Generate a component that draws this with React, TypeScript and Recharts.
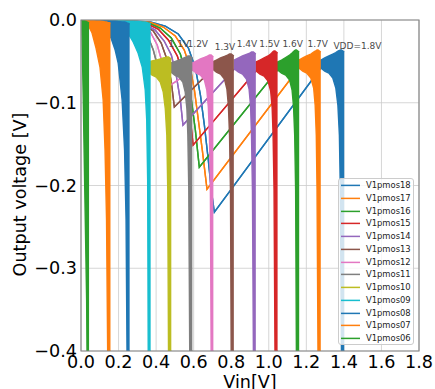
import React from 'react';
import {
  ComposedChart,
  Area,
  XAxis,
  YAxis,
  CartesianGrid,
  ReferenceArea,
  ReferenceDot,
  Legend,
} from 'recharts';

const FONT = 'DejaVu Sans';

const xTicks = [0, 0.2, 0.4, 0.6, 0.8, 1.0, 1.2, 1.4, 1.6, 1.8];
const yTicks = [-0.4, -0.3, -0.2, -0.1, 0];

const seriesNames = [
  'V1pmos18', 'V1pmos17', 'V1pmos16', 'V1pmos15', 'V1pmos14', 'V1pmos13', 'V1pmos12',
  'V1pmos11', 'V1pmos10', 'V1pmos09', 'V1pmos08', 'V1pmos07', 'V1pmos06',
];
const seriesColors = [
  '#1f77b4', '#ff7f0e', '#2ca02c', '#d62728', '#9467bd', '#8c564b', '#e377c2',
  '#7f7f7f', '#bcbd22', '#17becf', '#1f77b4', '#ff7f0e', '#2ca02c',
];

const vddLabels = ['1.1V', '1.2V', '1.3V', '1.4V', '1.5V', '1.6V', '1.7V', 'VDD=1.8V'];
const vddLabelX = [0.521, 0.622, 0.767, 0.884, 1.004, 1.127, 1.261, 1.472];
const vddLabelY = [-0.0284, -0.0284, -0.0326, -0.0284, -0.0284, -0.0284, -0.0284, -0.0314];

// thin traces: [Vin, Vout]
const line18 = [[0, 0], [0.208, -0.0006], [0.369, -0.0024], [0.449, -0.0073], [0.518, -0.0169], [0.572, -0.0339], [0.609, -0.058], [0.636, -0.0907], [0.657, -0.127], [0.678, -0.1693], [0.694, -0.2056], [0.71, -0.2322], [1.277, -0.058]];
const line17 = [[0, 0], [0.208, -0.0006], [0.369, -0.003], [0.438, -0.0085], [0.502, -0.0193], [0.55, -0.0363], [0.582, -0.058], [0.604, -0.0846], [0.625, -0.1209], [0.646, -0.1572], [0.671, -0.2044], [1.16, -0.058]];
const line16 = [[0, 0], [0.208, -0.0012], [0.358, -0.0036], [0.422, -0.0097], [0.481, -0.0218], [0.529, -0.0411], [0.561, -0.0665], [0.588, -0.0967], [0.609, -0.133], [0.63, -0.1778], [1.047, -0.0605]];
const line15 = [[0, 0], [0.208, -0.0012], [0.347, -0.0042], [0.411, -0.0109], [0.465, -0.0242], [0.513, -0.0435], [0.545, -0.0665], [0.572, -0.0967], [0.597, -0.1512], [0.932, -0.0617]];
const line14 = [[0, 0], [0.208, -0.0012], [0.337, -0.0048], [0.395, -0.0121], [0.443, -0.0254], [0.481, -0.0423], [0.507, -0.0665], [0.529, -0.0967], [0.543, -0.127], [0.817, -0.0592]];
const line13 = [[0, 0], [0.208, -0.0012], [0.326, -0.0054], [0.385, -0.0133], [0.427, -0.0278], [0.459, -0.0484], [0.481, -0.075], [0.497, -0.1052], [0.7, -0.0592]];
const line12 = [[0, 0], [0.208, -0.0018], [0.315, -0.006], [0.369, -0.0145], [0.406, -0.0302], [0.433, -0.052], [0.454, -0.0822], [0.593, -0.0605]];
const line11 = [[0, 0], [0.208, -0.0024], [0.304, -0.0073], [0.353, -0.0181], [0.385, -0.0363], [0.406, -0.0544], [0.422, -0.0713], [0.478, -0.0629]];
const line10 = [[0, 0], [0.208, -0.0024], [0.278, -0.0085], [0.321, -0.0206], [0.342, -0.0339], [0.358, -0.0508]];
const line09 = [[0, 0], [0.171, -0.0006]];
const line08 = [[0, 0], [0.091, -0.0006]];
const line07 = [[0, 0], [0.021, -0.0006]];
const line06 = [[0, 0], [0.005, -0.0006]];

// dense oscillation bands: [Vin, lower Vout, upper Vout]
const band18 = [[1.277, -0.058, -0.0484], [1.298, -0.0617, -0.0459], [1.32, -0.0641, -0.0435], [1.341, -0.0701, -0.0411], [1.357, -0.0822, -0.0393], [1.368, -0.1028, -0.0375], [1.376, -0.1391, -0.0369], [1.381, -0.2056, -0.0363], [1.387, -0.4, -0.0363], [1.402, -0.4, -0.0387]];
const band17 = [[1.16, -0.058, -0.0484], [1.181, -0.0617, -0.0459], [1.202, -0.0641, -0.0435], [1.224, -0.0701, -0.0411], [1.239, -0.0822, -0.0387], [1.247, -0.1028, -0.0375], [1.253, -0.1391, -0.0369], [1.257, -0.2056, -0.0363], [1.262, -0.4, -0.0363], [1.277, -0.4, -0.0387]];
const band16 = [[1.047, -0.0605, -0.0508], [1.068, -0.0641, -0.0484], [1.09, -0.0665, -0.0453], [1.111, -0.0726, -0.0423], [1.124, -0.0846, -0.0399], [1.132, -0.1052, -0.0381], [1.138, -0.1391, -0.0369], [1.143, -0.2056, -0.0363], [1.147, -0.4, -0.0363], [1.162, -0.4, -0.0387]];
const band15 = [[0.932, -0.0617, -0.0508], [0.953, -0.0653, -0.0484], [0.975, -0.0677, -0.0459], [0.996, -0.0738, -0.0435], [1.01, -0.0858, -0.0411], [1.018, -0.1064, -0.0393], [1.023, -0.1391, -0.0381], [1.028, -0.2056, -0.0375], [1.033, -0.4, -0.0375], [1.047, -0.4, -0.0399]];
const band14 = [[0.817, -0.0592, -0.0484], [0.839, -0.0629, -0.0459], [0.86, -0.0653, -0.0435], [0.881, -0.0713, -0.0417], [0.895, -0.0834, -0.0405], [0.903, -0.104, -0.0393], [0.908, -0.1391, -0.0387], [0.913, -0.2056, -0.0387], [0.918, -0.4, -0.0387], [0.931, -0.4, -0.0411]];
const band13 = [[0.7, -0.0592, -0.0508], [0.721, -0.0629, -0.0484], [0.743, -0.0653, -0.0459], [0.764, -0.0713, -0.0441], [0.777, -0.0834, -0.0429], [0.785, -0.104, -0.0417], [0.791, -0.1391, -0.0411], [0.796, -0.2056, -0.0411], [0.8, -0.4, -0.0411], [0.814, -0.4, -0.0435]];
const band12 = [[0.593, -0.0605, -0.052], [0.614, -0.0641, -0.0496], [0.636, -0.0665, -0.0471], [0.657, -0.0726, -0.0453], [0.67, -0.0846, -0.0441], [0.678, -0.1052, -0.0429], [0.684, -0.1391, -0.0423], [0.689, -0.2056, -0.0423], [0.693, -0.4, -0.0423], [0.705, -0.4, -0.0447]];
const band11 = [[0.478, -0.0629, -0.052], [0.499, -0.0665, -0.0502], [0.521, -0.0689, -0.0484], [0.542, -0.075, -0.0465], [0.555, -0.0871, -0.0453], [0.564, -0.1076, -0.0441], [0.569, -0.1391, -0.0435], [0.574, -0.2056, -0.0435], [0.579, -0.4, -0.0435], [0.593, -0.4, -0.0459]];
const band10 = [[0.358, -0.0629, -0.0508], [0.379, -0.0665, -0.0496], [0.401, -0.0689, -0.0484], [0.422, -0.075, -0.0471], [0.438, -0.0871, -0.0459], [0.449, -0.1076, -0.0453], [0.457, -0.1391, -0.0447], [0.462, -0.2056, -0.0447], [0.466, -0.4, -0.0447], [0.481, -0.4, -0.0471]];
const band09 = [[0.171, -0.0018, -0.0006], [0.208, -0.006, -0.0006], [0.246, -0.0145, -0.0012], [0.278, -0.0266, -0.0012], [0.304, -0.0399, -0.0018], [0.326, -0.0568, -0.0024], [0.342, -0.0846, -0.0024], [0.35, -0.1209, -0.003], [0.355, -0.1935, -0.0036], [0.358, -0.4, -0.0036], [0.371, -0.4, -0.0048]];
const band08 = [[0.091, -0.0018, -0.0006], [0.128, -0.0085, -0.0006], [0.16, -0.0218, -0.0012], [0.182, -0.0363, -0.0012], [0.198, -0.052, -0.0018], [0.219, -0.0967, -0.0024], [0.232, -0.1572, -0.0024], [0.24, -0.2418, -0.003], [0.245, -0.4, -0.0036], [0.259, -0.4, -0.0048]];
const band07 = [[0.021, -0.0018, -0.0006], [0.043, -0.0085, -0.0006], [0.059, -0.0157, -0.0006], [0.08, -0.0339, -0.0012], [0.101, -0.0568, -0.0012], [0.118, -0.0967, -0.0018], [0.128, -0.1572, -0.0024], [0.136, -0.2418, -0.0024], [0.142, -0.4, -0.003], [0.157, -0.4, -0.0036]];
const band06 = [[0.005, -0.0121, -0.0006], [0.012, -0.0967, -0.0006], [0.021, -0.2177, -0.0012], [0.03, -0.3386, -0.0018], [0.032, -0.4, -0.0024], [0.043, -0.4, -0.0036]];

const lines = [line18, line17, line16, line15, line14, line13, line12, line11, line10, line09, line08, line07, line06];
const bands = [band18, band17, band16, band15, band14, band13, band12, band11, band10, band09, band08, band07, band06];

const series = seriesNames.map((name, i) => ({
  name,
  color: seriesColors[i],
  data: [
    ...lines[i].map(([x, y]) => ({ x, r: [y, y] })),
    ...bands[i].map(([x, lo, hi]) => ({ x, r: [lo, hi] })),
  ],
}));

const fmtX = (v: number) => v.toFixed(1);
const fmtY = (v: number) => (Math.abs(v) < 1e-9 ? '0.0' : v.toFixed(1).replace('-', '\u2212'));

const YLabel = (props: any) => {
  const vb = props.viewBox || { x: 0, y: 20, width: 81, height: 331 };
  const cx = vb.x + 20;
  const cy = vb.y + vb.height / 2 + 9;
  return (
    <text
      x={cx}
      y={cy}
      transform={`rotate(-90 ${cx} ${cy})`}
      textAnchor="middle"
      dominantBaseline="central"
      fontSize={17.6}
      fontFamily={FONT}
      fill="#000"
    >
      Output voltage [V]
    </text>
  );
};

const XLabel = (props: any) => {
  const vb = props.viewBox || { x: 81, y: 351, width: 338, height: 38 };
  const cx = vb.x + vb.width / 2;
  const cy = vb.y + 37;
  return (
    <text x={cx} y={cy} textAnchor="middle" fontSize={17.6} fontFamily={FONT} fill="#000">
      Vin[V]
    </text>
  );
};

const LegendBox = () => (
  <div
    style={{
      width: 76,
      height: 167,
      boxSizing: 'border-box',
      background: 'rgba(255,255,255,0.8)',
      border: '1px solid #cccccc',
      borderRadius: 3,
      fontFamily: FONT,
      fontSize: 8.4,
      position: 'relative',
    }}
  >
    {seriesNames.map((n, i) => (
      <div
        key={n}
        style={{
          position: 'absolute',
          left: 0,
          top: i * 12.75,
          height: 12.75,
          display: 'flex',
          alignItems: 'center',
          whiteSpace: 'nowrap',
        }}
      >
        <svg width={24} height={12.75} style={{ display: 'block' }}>
          <line x1={2} x2={21} y1={6.4} y2={6.4} stroke={seriesColors[i]} strokeWidth={1.5} />
        </svg>
        <span style={{ marginLeft: 3, color: '#222', lineHeight: '12.75px' }}>{n}</span>
      </div>
    ))}
  </div>
);

export default function App() {
  return (
    <div style={{ position: 'absolute', left: 0, top: 0, width: 435, height: 389, background: '#fff' }}>
      <ComposedChart
        width={435}
        height={389}
        margin={{ top: 20, right: 16, bottom: 0, left: 0 }}
      >
        <CartesianGrid stroke="#cccccc" strokeWidth={0.8} />
        <XAxis
          type="number"
          dataKey="x"
          domain={[0, 1.8]}
          ticks={xTicks}
          interval={0}
          allowDataOverflow
          height={38}
          tickSize={0}
          tickMargin={5}
          axisLine={false}
          tickLine={false}
          tickFormatter={fmtX}
          tick={{ fontSize: 17.6, fontFamily: FONT, fill: '#000' }}
          label={{ content: XLabel }}
        />
        <YAxis
          type="number"
          domain={[-0.4, 0]}
          ticks={yTicks}
          interval={0}
          allowDataOverflow
          width={81}
          tickSize={0}
          tickMargin={4}
          axisLine={false}
          tickLine={false}
          tickFormatter={fmtY}
          tick={{ fontSize: 17.6, fontFamily: FONT, fill: '#000' }}
          label={{ content: YLabel }}
        />
        {vddLabels.map((t, i) => (
          <ReferenceDot
            key={t}
            x={vddLabelX[i]}
            y={vddLabelY[i]}
            r={0}
            fill="none"
            stroke="none"
            ifOverflow="visible"
            label={{ value: t, position: 'center', fill: '#4a4a4a', fontSize: 9, fontFamily: FONT }}
          />
        ))}
        {series.map((s) => (
          <Area
            key={s.name}
            name={s.name}
            data={s.data}
            dataKey="r"
            type="linear"
            stroke={s.color}
            strokeWidth={1.4}
            fill={s.color}
            fillOpacity={1}
            dot={false}
            activeDot={false}
            legendType="none"
            isAnimationActive={false}
          />
        ))}
        <ReferenceArea
          x1={0}
          x2={1.8}
          y1={-0.4}
          y2={0}
          fill="none"
          stroke="#888888"
          strokeWidth={1.2}
          ifOverflow="visible"
        />
        <Legend
          layout="horizontal"
          verticalAlign="middle"
          align="center"
          content={LegendBox}
          wrapperStyle={{ left: 338, top: 178, width: 76, height: 167 }}
        />
      </ComposedChart>
    </div>
  );
}
